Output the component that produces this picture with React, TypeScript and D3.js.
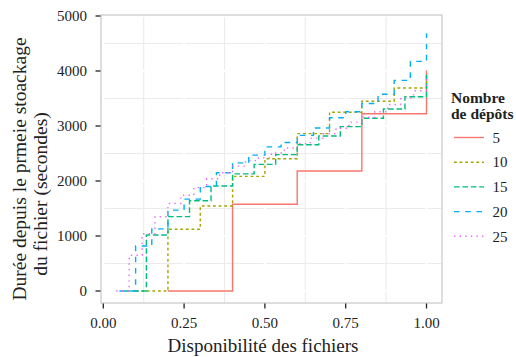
import React from "react";
import * as d3 from "d3";

const xTicks = [0, 0.25, 0.5, 0.75, 1.0];
const xTickLabels = ["0.00", "0.25", "0.50", "0.75", "1.00"];
const xMinor = [0.125, 0.375, 0.625, 0.875];
const yTicks = [0, 1000, 2000, 3000, 4000, 5000];
const yMinor = [500, 1500, 2500, 3500, 4500];

const seriesNames = ["5", "10", "15", "20", "25"];
const seriesColors = ["#F8766D", "#A3A500", "#00BF7D", "#00B0F6", "#E76BF3"];

const x5 = [0.2, 0.4, 0.6, 0.8, 1.0];
const y5 = [0, 1576, 2182, 3222, 4010];

const x10 = [0.1, 0.2, 0.3, 0.4, 0.5, 0.6, 0.7, 0.8, 0.9, 1.0];
const y10 = [0, 1122, 1545, 2085, 2405, 2862, 3249, 3450, 3690, 3960];

const x15 = [0.0667, 0.1333, 0.2, 0.2667, 0.3333, 0.4, 0.4667, 0.5333, 0.6, 0.6667, 0.7333, 0.8, 0.8667, 0.9333, 1.0];
const y15 = [0, 1018, 1352, 1642, 1910, 2130, 2303, 2480, 2660, 2818, 2988, 3140, 3309, 3533, 3950];

const x20 = [0.05, 0.1, 0.15, 0.2, 0.25, 0.3, 0.35, 0.4, 0.45, 0.5, 0.55, 0.6, 0.65, 0.7, 0.75, 0.8, 0.85, 0.9, 0.95, 1.0];
const y20 = [0, 818, 1130, 1470, 1670, 1900, 2150, 2330, 2470, 2620, 2700, 2830, 2965, 3150, 3260, 3410, 3576, 3830, 4175, 4685];

const x25 = [0.04, 0.08, 0.12, 0.16, 0.2, 0.24, 0.28, 0.32, 0.36, 0.4, 0.44, 0.48, 0.52, 0.56, 0.6, 0.64, 0.68, 0.72, 0.76, 0.8, 0.84, 0.88, 0.92, 0.96, 1.0];
const y25 = [0, 650, 1040, 1350, 1590, 1740, 1880, 2040, 2150, 2270, 2370, 2420, 2510, 2600, 2680, 2780, 2860, 2960, 3070, 3160, 3260, 3390, 3510, 3640, 3890];

const seriesX = [x5, x10, x15, x20, x25];
const seriesY = [y5, y10, y15, y20, y25];

const LW = 1.4;
const dashes = ["", `${2 * LW},${2 * LW}`, `${4 * LW},${2 * LW}`, `${4 * LW},${4 * LW}`, `${1 * LW},${3 * LW}`];

const FONT = "'Liberation Serif', 'DejaVu Serif', serif";

export default function App() {
  const panel = { left: 101, right: 442, top: 15, bottom: 303 };
  const x = d3.scaleLinear().domain([0, 1]).range([103.3, 426.5]);
  const y = d3.scaleLinear().domain([0, 5000]).range([291, 16]);
  const line = d3
    .line<[number, number]>()
    .x((d) => x(d[0]))
    .y((d) => y(d[1]))
    .curve(d3.curveStepAfter);

  const gridMinor = "#ebebeb";
  const legendX = 454;
  const legendY0 = 137.5;
  const legendStep = 24.7;

  return (
    <svg
      width={516}
      height={357}
      style={{ position: "absolute", left: 0, top: 0, background: "#fff" }}
      fontFamily={FONT}
    >
      <rect x={0} y={0} width={516} height={357} fill="#fff" />
      {xMinor.map((v) => (
        <line key={"xm" + v} x1={x(v)} x2={x(v)} y1={panel.top} y2={panel.bottom} stroke={gridMinor} strokeWidth={1.1} />
      ))}
      {yMinor.map((v) => (
        <line key={"ym" + v} x1={panel.left} x2={panel.right} y1={y(v)} y2={y(v)} stroke={gridMinor} strokeWidth={1.1} />
      ))}
      {xTicks.map((v) => (
        <line key={"xM" + v} x1={x(v)} x2={x(v)} y1={panel.top} y2={panel.bottom} stroke="#ffffff" strokeWidth={2} />
      ))}
      {yTicks.map((v) => (
        <line key={"yM" + v} x1={panel.left} x2={panel.right} y1={y(v)} y2={y(v)} stroke="#ffffff" strokeWidth={2} />
      ))}
      {seriesX.map((xs, i) => {
        const pts: [number, number][] = xs.map((xv, j) => [xv, seriesY[i][j]]);
        return (
          <path
            key={"s" + i}
            d={line(pts) || ""}
            fill="none"
            stroke={seriesColors[i]}
            strokeWidth={LW}
            strokeDasharray={dashes[i] || undefined}
            strokeLinecap="butt"
          />
        );
      })}
      <rect
        x={panel.left}
        y={panel.top}
        width={panel.right - panel.left}
        height={panel.bottom - panel.top}
        fill="none"
        stroke="#cccccc"
        strokeWidth={1.3}
      />
      {yTicks.map((v) => (
        <g key={"yt" + v}>
          <line x1={95.5} x2={100.5} y1={y(v)} y2={y(v)} stroke="#222" strokeWidth={1.3} />
          <text x={87} y={y(v)} dy="0.35em" textAnchor="end" fontSize={15} fill="#222">
            {String(v)}
          </text>
        </g>
      ))}
      {xTicks.map((v, i) => (
        <g key={"xt" + v}>
          <line x1={x(v)} x2={x(v)} y1={303.5} y2={308.5} stroke="#222" strokeWidth={1.3} />
          <text x={x(v)} y={328} textAnchor="middle" fontSize={15} fill="#222">
            {xTickLabels[i]}
          </text>
        </g>
      ))}
      <text x={263} y={352} textAnchor="middle" fontSize={19} fill="#222">
        Disponibilité des fichiers
      </text>
      <text transform="translate(26,169) rotate(-90)" textAnchor="middle" fontSize={19.5} fill="#222">
        Durée depuis le prmeie stoackage
      </text>
      <text transform="translate(47,194) rotate(-90)" textAnchor="middle" fontSize={19.5} fill="#222">
        du fichier (secondes)
      </text>
      <text x={451} y={103} fontSize={15.5} fontWeight="bold" fill="#222">
        Nombre
      </text>
      <text x={451} y={119} fontSize={15.5} fontWeight="bold" fill="#222">
        de dépôts
      </text>
      {seriesNames.map((name, i) => {
        const cy = legendY0 + i * legendStep;
        return (
          <g key={"lg" + i}>
            <line
              x1={legendX}
              x2={legendX + 30}
              y1={cy}
              y2={cy}
              stroke={seriesColors[i]}
              strokeWidth={LW}
              strokeDasharray={dashes[i] || undefined}
            />
            <text x={492.5} y={cy} dy="0.35em" fontSize={15} fill="#222">
              {name}
            </text>
          </g>
        );
      })}
    </svg>
  );
}
